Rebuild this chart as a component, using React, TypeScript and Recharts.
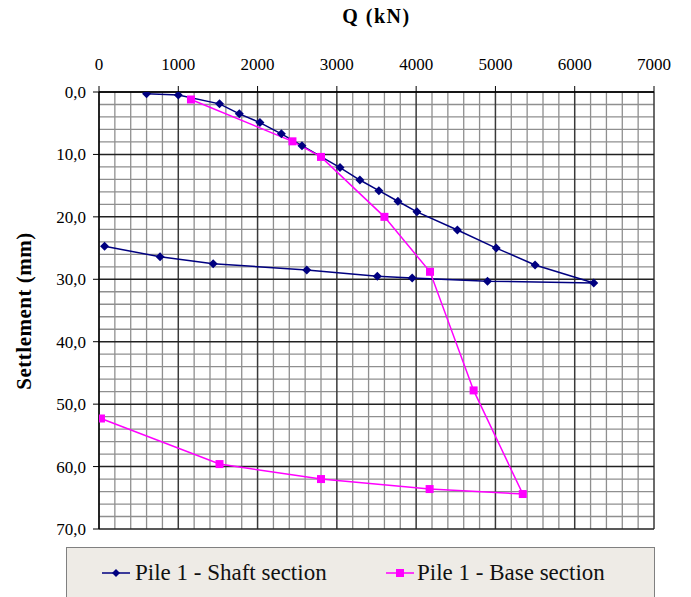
import { LineChart, Line, XAxis, YAxis, ReferenceLine } from "recharts";

const loadTicks = [0, 1000, 2000, 3000, 4000, 5000, 6000, 7000];
const settlementTicks = [0, 10, 20, 30, 40, 50, 60, 70];

// minor grid every 200 kN / 2 mm
const loadMinor = Array.from({ length: 36 }, (_, i) => i * 200).filter((v) => v % 1000 !== 0);
const settlementMinor = Array.from({ length: 36 }, (_, i) => i * 2).filter((v) => v % 10 !== 0);

const shaftQ = [600, 1000, 1520, 1770, 2030, 2300, 2560, 3040, 3290, 3530, 3770, 4010, 4520, 5010, 5500, 6240, 4900, 3950, 3510, 2620, 1440, 770, 70];
const shaftS = [0.3, 0.5, 1.9, 3.5, 4.9, 6.7, 8.6, 12.1, 14.1, 15.8, 17.5, 19.2, 22.1, 25.0, 27.7, 30.6, 30.3, 29.8, 29.5, 28.5, 27.5, 26.4, 24.7];

const baseQ = [1160, 2440, 2800, 3600, 4175, 4725, 5345, 4170, 2800, 1520, 25];
const baseS = [1.2, 7.9, 10.4, 20.0, 28.8, 47.8, 64.4, 63.6, 62.0, 59.6, 52.3];

const shaftData = shaftQ.map((q, i) => ({ q, s: shaftS[i] }));
const baseData = baseQ.map((q, i) => ({ q, s: baseS[i] }));

const NAVY = "#000080";
const PINK = "#ff00ff";
const FONT = "Liberation Serif";

const Diamond = (props: any) => {
  const { cx, cy, index } = props;
  if (cx == null || cy == null) return <g key={index} />;
  return (
    <polygon
      key={index}
      points={`${cx},${cy - 4.5} ${cx + 4.5},${cy} ${cx},${cy + 4.5} ${cx - 4.5},${cy}`}
      fill={NAVY}
    />
  );
};

const Square = (props: any) => {
  const { cx, cy, index } = props;
  if (cx == null || cy == null) return <g key={index} />;
  return <rect key={index} x={cx - 4} y={cy - 4} width={8} height={8} fill={PINK} />;
};

const fmt = (v: number) => v.toFixed(1).replace(".", ",");

export default function App() {
  const tickStyle = { fontSize: 17, fontFamily: FONT, fill: "#000" };
  return (
    <div style={{ position: "absolute", left: 0, top: 0, width: 691, height: 597, background: "#fff", overflow: "hidden", fontFamily: FONT }}>
      <div
        style={{
          position: "absolute",
          left: 99,
          width: 555,
          top: 5,
          textAlign: "center",
          fontWeight: 700,
          fontSize: 20,
          letterSpacing: 1.5,
        }}
      >
        Q (kN)
      </div>
      <div
        style={{
          position: "absolute",
          left: 24,
          top: 311,
          transform: "translate(-50%, -50%) rotate(-90deg)",
          whiteSpace: "nowrap",
          fontWeight: 700,
          fontSize: 21,
          letterSpacing: 0.5,
        }}
      >
        Settlement (mm)
      </div>
      <LineChart width={691} height={597} margin={{ top: 52, right: 37, left: 39, bottom: 68 }}>
        <XAxis
          type="number"
          dataKey="q"
          orientation="top"
          domain={[0, 7000]}
          ticks={loadTicks}
          allowDataOverflow
          height={40}
          tickSize={6}
          tickMargin={16}
          tick={tickStyle}
          axisLine={{ stroke: "#000", strokeWidth: 1.3 }}
          tickLine={{ stroke: "#000" }}
        />
        <YAxis
          type="number"
          dataKey="s"
          reversed
          domain={[0, 70]}
          ticks={settlementTicks}
          allowDataOverflow
          width={60}
          tickSize={6}
          tickMargin={7}
          tickFormatter={fmt}
          tick={tickStyle}
          axisLine={{ stroke: "#000", strokeWidth: 1.3 }}
          tickLine={{ stroke: "#000" }}
        />
        {loadMinor.map((v) => (
          <ReferenceLine key={`vx${v}`} x={v} stroke="#8f8f8f" strokeWidth={1.3} ifOverflow="hidden" />
        ))}
        {settlementMinor.map((v) => (
          <ReferenceLine key={`hy${v}`} y={v} stroke="#8f8f8f" strokeWidth={1.3} ifOverflow="hidden" />
        ))}
        {loadTicks.map((v) => (
          <ReferenceLine key={`VX${v}`} x={v} stroke="#3a3a3a" strokeWidth={1.5} />
        ))}
        {settlementTicks.map((v) => (
          <ReferenceLine key={`HY${v}`} y={v} stroke="#222" strokeWidth={1.5} />
        ))}
        <Line
          data={shaftData}
          dataKey="s"
          type="linear"
          stroke={NAVY}
          strokeWidth={1.5}
          dot={Diamond}
          activeDot={false}
          isAnimationActive={false}
        />
        <Line
          data={baseData}
          dataKey="s"
          type="linear"
          stroke={PINK}
          strokeWidth={1.5}
          dot={Square}
          activeDot={false}
          isAnimationActive={false}
        />
      </LineChart>
      <div
        style={{
          position: "absolute",
          left: 66,
          top: 547,
          width: 589,
          height: 60,
          boxSizing: "border-box",
          background: "#eeebe6",
          border: "1px solid #808080",
          fontSize: 23,
          color: "#111",
        }}
      >
        <div style={{ position: "absolute", left: 35, top: 12, display: "flex", alignItems: "center" }}>
          <svg width={28} height={12} style={{ marginRight: 5 }}>
            <line x1={0} y1={6} x2={28} y2={6} stroke={NAVY} strokeWidth={1.5} />
            <polygon points="14,2 18,6 14,10 10,6" fill={NAVY} />
          </svg>
          <span>Pile 1 - Shaft section</span>
        </div>
        <div style={{ position: "absolute", left: 319, top: 12, display: "flex", alignItems: "center" }}>
          <svg width={28} height={12} style={{ marginRight: 3 }}>
            <line x1={0} y1={6} x2={28} y2={6} stroke={PINK} strokeWidth={1.5} />
            <rect x={10} y={2} width={8} height={8} fill={PINK} />
          </svg>
          <span>Pile 1 - Base section</span>
        </div>
      </div>
    </div>
  );
}
